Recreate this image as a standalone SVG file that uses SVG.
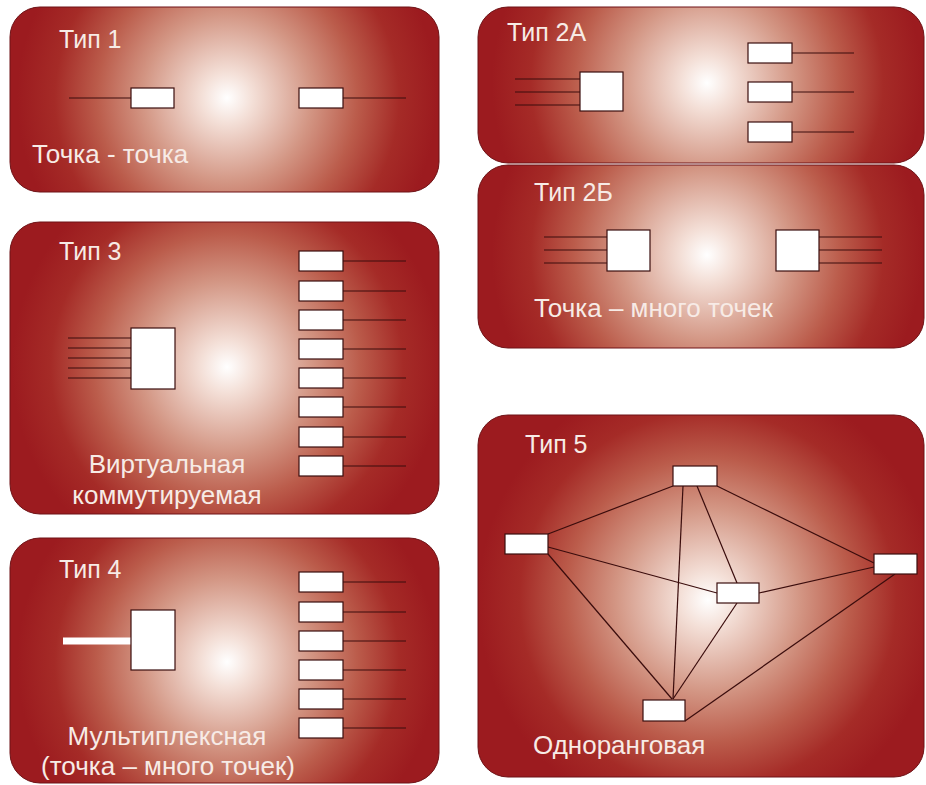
<svg xmlns="http://www.w3.org/2000/svg" width="926" height="785" viewBox="0 0 926 785">
<defs>
<radialGradient id="g1" gradientUnits="userSpaceOnUse" cx="227" cy="98" r="210">
<stop offset="0" stop-color="#ffffff"/>
<stop offset="0.12" stop-color="#f4e0d8"/>
<stop offset="0.4" stop-color="#d39684"/>
<stop offset="0.62" stop-color="#bb5c4b"/>
<stop offset="0.82" stop-color="#a52b27"/>
<stop offset="1" stop-color="#9c1b1f"/>
</radialGradient>
<radialGradient id="g2a" href="#g1" cx="707" cy="83" r="215"/>
<radialGradient id="g2b" href="#g1" cx="707" cy="255" r="215"/>
<radialGradient id="g3" href="#g1" cx="227" cy="367" r="215"/>
<radialGradient id="g4" href="#g1" cx="227" cy="662" r="210"/>
<radialGradient id="g5" href="#g1" cx="708" cy="600" r="230"/>
<style>
.panel{stroke:#6e1216;stroke-width:1}
.box{fill:#ffffff;stroke:#3a0e0e;stroke-width:1.2}
.ln{stroke:#3a0c0c;stroke-width:1.2;fill:none}
.t{font-family:"Liberation Sans",Arial,sans-serif;font-size:25px;fill:#f7ebe6}
.d{font-family:"Liberation Sans",Arial,sans-serif;font-size:26px;fill:#f7ebe6}
.dc{font-family:"Liberation Sans",Arial,sans-serif;font-size:26px;fill:#f7ebe6;text-anchor:middle}
</style>
</defs>
<rect width="926" height="785" fill="#ffffff"/>

<g id="panel1">
<rect class="panel" fill="url(#g1)" x="10" y="7" width="429" height="185" rx="30"/>
<text class="t" x="59" y="48">Тип 1</text>
<text class="d" x="32" y="163">Точка - точка</text>
</g>
<g id="panel2a">
<rect class="panel" fill="url(#g2a)" x="478" y="7" width="446" height="156" rx="30"/>
<text class="t" x="507" y="41">Тип 2А</text>
</g>
<g id="panel2b">
<rect class="panel" fill="url(#g2b)" x="478" y="165" width="446" height="183" rx="30"/>
<text class="t" x="534" y="201">Тип 2Б</text>
<text class="d" x="534" y="317">Точка – много точек</text>
</g>
<g id="panel3">
<rect class="panel" fill="url(#g3)" x="10" y="222" width="429" height="292" rx="30"/>
<text class="t" x="59" y="260">Тип 3</text>
<text class="dc" x="167" y="473">Виртуальная</text>
<text class="dc" x="167" y="504">коммутируемая</text>
</g>
<g id="panel4">
<rect class="panel" fill="url(#g4)" x="10" y="538" width="429" height="245" rx="30"/>
<text class="t" x="59" y="578">Тип 4</text>
<text class="dc" x="167" y="745">Мультиплексная</text>
<text class="dc" x="168" y="775">(точка – много точек)</text>
</g>
<g id="panel5">
<rect class="panel" fill="url(#g5)" x="478" y="415" width="446" height="362" rx="30"/>
<text class="t" x="525" y="453">Тип 5</text>
<text class="d" x="533" y="754">Одноранговая</text>
</g>

<g id="connectors">
<line class="ln" x1="69" y1="98" x2="131" y2="98"/>
<line class="ln" x1="343" y1="98" x2="406" y2="98"/>
<line class="ln" x1="515" y1="79" x2="580" y2="79"/>
<line class="ln" x1="515" y1="92" x2="580" y2="92"/>
<line class="ln" x1="515" y1="105" x2="580" y2="105"/>
<line class="ln" x1="792" y1="53" x2="854" y2="53"/>
<line class="ln" x1="792" y1="92" x2="854" y2="92"/>
<line class="ln" x1="792" y1="132" x2="854" y2="132"/>
<line class="ln" x1="544" y1="237" x2="607" y2="237"/>
<line class="ln" x1="544" y1="250" x2="607" y2="250"/>
<line class="ln" x1="544" y1="263" x2="607" y2="263"/>
<line class="ln" x1="819" y1="237" x2="882" y2="237"/>
<line class="ln" x1="819" y1="250" x2="882" y2="250"/>
<line class="ln" x1="819" y1="263" x2="882" y2="263"/>
<line class="ln" x1="68" y1="338" x2="131" y2="338"/>
<line class="ln" x1="68" y1="348" x2="131" y2="348"/>
<line class="ln" x1="68" y1="358" x2="131" y2="358"/>
<line class="ln" x1="68" y1="368" x2="131" y2="368"/>
<line class="ln" x1="68" y1="378" x2="131" y2="378"/>
<line class="ln" x1="343" y1="261" x2="406" y2="261"/>
<line class="ln" x1="343" y1="291" x2="406" y2="291"/>
<line class="ln" x1="343" y1="320" x2="406" y2="320"/>
<line class="ln" x1="343" y1="349" x2="406" y2="349"/>
<line class="ln" x1="343" y1="378" x2="406" y2="378"/>
<line class="ln" x1="343" y1="407" x2="406" y2="407"/>
<line class="ln" x1="343" y1="437" x2="406" y2="437"/>
<line class="ln" x1="343" y1="466" x2="406" y2="466"/>
<line x1="63" y1="641" x2="131" y2="641" stroke="#ffffff" stroke-width="7"/>
<line class="ln" x1="343" y1="582" x2="406" y2="582"/>
<line class="ln" x1="343" y1="612" x2="406" y2="612"/>
<line class="ln" x1="343" y1="641" x2="406" y2="641"/>
<line class="ln" x1="343" y1="670" x2="406" y2="670"/>
<line class="ln" x1="343" y1="699" x2="406" y2="699"/>
<line class="ln" x1="343" y1="728" x2="406" y2="728"/>
<line class="ln" x1="673" y1="486" x2="548" y2="534"/>
<line class="ln" x1="683" y1="486" x2="673" y2="699"/>
<line class="ln" x1="697" y1="486" x2="737" y2="583"/>
<line class="ln" x1="717" y1="486" x2="874" y2="563"/>
<line class="ln" x1="548" y1="547" x2="717" y2="593"/>
<line class="ln" x1="548" y1="554" x2="672" y2="699"/>
<line class="ln" x1="737" y1="603" x2="673" y2="699"/>
<line class="ln" x1="759" y1="593" x2="874" y2="567"/>
<line class="ln" x1="895" y1="574" x2="685" y2="721"/>
</g>

<g id="nodes">
<rect id="p1-left" class="box" x="131" y="88" width="43" height="20"/>
<rect id="p1-right" class="box" x="299" y="88" width="44" height="20"/>
<rect id="p2a-hub" class="box" x="580" y="72" width="43" height="39"/>
<rect id="p2a-t1" class="box" x="748" y="43" width="44" height="20"/>
<rect id="p2a-t2" class="box" x="748" y="82" width="44" height="20"/>
<rect id="p2a-t3" class="box" x="748" y="122" width="44" height="20"/>
<rect id="p2b-left" class="box" x="607" y="230" width="43" height="41"/>
<rect id="p2b-right" class="box" x="776" y="230" width="43" height="41"/>
<rect id="p3-hub" class="box" x="131" y="328" width="44" height="61"/>
<rect id="p3-t1" class="box" x="299" y="251" width="44" height="20"/>
<rect id="p3-t2" class="box" x="299" y="281" width="44" height="20"/>
<rect id="p3-t3" class="box" x="299" y="310" width="44" height="20"/>
<rect id="p3-t4" class="box" x="299" y="339" width="44" height="20"/>
<rect id="p3-t5" class="box" x="299" y="368" width="44" height="20"/>
<rect id="p3-t6" class="box" x="299" y="397" width="44" height="20"/>
<rect id="p3-t7" class="box" x="299" y="427" width="44" height="20"/>
<rect id="p3-t8" class="box" x="299" y="456" width="44" height="20"/>
<rect id="p4-hub" class="box" x="131" y="610" width="44" height="60"/>
<rect id="p4-t1" class="box" x="299" y="572" width="44" height="20"/>
<rect id="p4-t2" class="box" x="299" y="602" width="44" height="20"/>
<rect id="p4-t3" class="box" x="299" y="631" width="44" height="20"/>
<rect id="p4-t4" class="box" x="299" y="660" width="44" height="20"/>
<rect id="p4-t5" class="box" x="299" y="689" width="44" height="20"/>
<rect id="p4-t6" class="box" x="299" y="718" width="44" height="20"/>
<rect id="p5-top" class="box" x="673" y="466" width="44" height="20"/>
<rect id="p5-left" class="box" x="505" y="534" width="43" height="20"/>
<rect id="p5-right" class="box" x="874" y="554" width="43" height="20"/>
<rect id="p5-center" class="box" x="717" y="583" width="42" height="20"/>
<rect id="p5-bottom" class="box" x="643" y="700" width="42" height="21"/>
</g>
</svg>
